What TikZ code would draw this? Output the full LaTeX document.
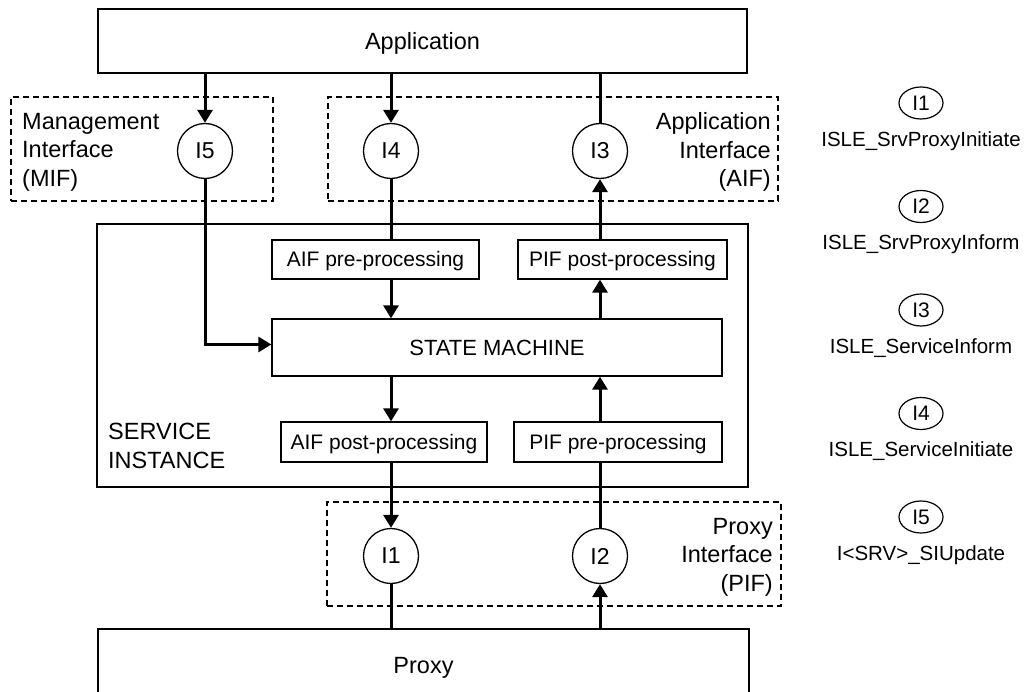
\documentclass[tikz,border=0pt]{standalone}
\usepackage{fontspec}
\setmainfont{Liberation Sans}
\usetikzlibrary{arrows.meta,shapes.geometric,calc}
\begin{document}
\begin{tikzpicture}[x=1pt,y=-1pt,
  bigbox/.style={draw,line width=1.3pt,inner sep=0pt,text height=16.8pt,text depth=0pt,font=\fontsize{23.5}{28.5}\selectfont},
  pbox/.style={draw,line width=1.3pt,inner sep=0pt,text height=15pt,text depth=0pt,font=\fontsize{21}{25}\selectfont},
  dbox/.style={draw,line width=1.4pt,dash pattern=on 6pt off 4pt,inner sep=0pt},
  circ/.style={draw,circle,line width=1.3pt,minimum size=55pt,inner sep=0pt,font=\fontsize{23}{27}\selectfont},
  lcirc/.style={draw,ellipse,line width=1.2pt,minimum width=44pt,minimum height=32pt,inner sep=0pt,font=\fontsize{21}{25}\selectfont},
  lbl/.style={inner sep=0pt,font=\fontsize{23.5}{28.5}\selectfont},
  ltext/.style={inner sep=0pt,font=\fontsize{20.5}{24}\selectfont},
  arr/.style={line width=3pt,-{Triangle[length=13pt,width=15pt]}},
  ln/.style={line width=3pt}]
\useasboundingbox (0,0) rectangle (1028,692);
\clip (0,0) rectangle (1028,692);

% dashed interface boxes
\node[dbox,minimum width=262pt,minimum height=104pt] (mif) at (142,149) {};
\node[dbox,minimum width=450pt,minimum height=104pt] (aif) at (553,149) {};
\node[dbox,minimum width=454pt,minimum height=104pt] (pif) at (554,554) {};

% main boxes
\node[bigbox,minimum width=649pt,minimum height=64pt] (app) at (422.5,41) {Application};
\node[draw,line width=1.3pt,minimum width=651pt,minimum height=263pt,inner sep=0pt] (si) at (422.5,355.5) {};
\node[pbox,minimum width=207pt,minimum height=39pt] (aifpre) at (375.5,259.5) {AIF pre-processing};
\node[pbox,minimum width=209pt,minimum height=39pt] (pifpost) at (622.5,259.5) {PIF post-processing};
\node[pbox,minimum width=450pt,minimum height=57pt,text height=15.8pt,font=\fontsize{22}{26}\selectfont] (sm) at (497,347.5) {STATE MACHINE};
\node[pbox,minimum width=206pt,minimum height=40pt] (aifpost) at (384,442) {AIF post-processing};
\node[pbox,minimum width=208pt,minimum height=40pt] (pifpre) at (618,442) {PIF pre-processing};
\node[bigbox,minimum width=651pt,minimum height=72pt] (proxy) at (423.5,665) {Proxy};

% interface circles
\node[circ] (i5) at (205,151) {I5};
\node[circ] (i4) at (391,151) {I4};
\node[circ] (i3) at (600,151) {I3};
\node[circ] (i1) at (391,556) {I1};
\node[circ] (i2) at (600,556) {I2};

% labels
\node[lbl,anchor=west,align=left] (mifl) at (22,152) {Management\\Interface\\(MIF)};
\node[lbl,anchor=east,align=right] (aifl) at (771,152) {Application\hspace{13pt}\\Interface\hspace{13pt}\\(AIF)};
\node[lbl,anchor=east,align=right] (pifl) at (773,557) {Proxy\hspace{13pt}\\Interface\hspace{13pt}\\(PIF)};
\node[lbl,anchor=west,align=left] (sil) at (108,446) {SERVICE\\INSTANCE};

% connectors
\draw[arr] (app.south -| i5) -- (i5.north);
\draw[arr] (app.south -| i4) -- (i4.north);
\draw[ln] (app.south -| i3) -- (i3.north);
\draw[ln] (i4.south) -- (aifpre.north -| i4);
\draw[arr] (i5.south) |- ([yshift=3pt]sm.west);
\draw[arr] (aifpre.south -| i4) -- (sm.north -| i4);
\draw[arr] (sm.north -| i3) -- (pifpost.south -| i3);
\draw[arr] (pifpost.north -| i3) -- (i3.south);
\draw[arr] (sm.south -| i1) -- (aifpost.north -| i1);
\draw[arr] (pifpre.north -| i2) -- (sm.south -| i2);
\draw[arr] (aifpost.south -| i1) -- (i1.north);
\draw[ln] (i1.south) -- (proxy.north -| i1);
\draw[ln] (i2.north) -- (pifpre.south -| i2);
\draw[arr] (proxy.north -| i2) -- (i2.south);

% legend
\node[lcirc] (l1) at (921,103) {I1};
\node[ltext] (t1) at (921,141) {ISLE\_SrvProxyInitiate};
\node[lcirc] (l2) at (921,206.5) {I2};
\node[ltext] (t2) at (921,244.5) {ISLE\_SrvProxyInform};
\node[lcirc] (l3) at (921,310) {I3};
\node[ltext] (t3) at (921,348) {ISLE\_ServiceInform};
\node[lcirc] (l4) at (921,413.5) {I4};
\node[ltext] (t4) at (921,451.5) {ISLE\_ServiceInitiate};
\node[lcirc] (l5) at (921,517) {I5};
\node[ltext] (t5) at (921,555) {I<SRV>\_SIUpdate};
\end{tikzpicture}
\end{document}
